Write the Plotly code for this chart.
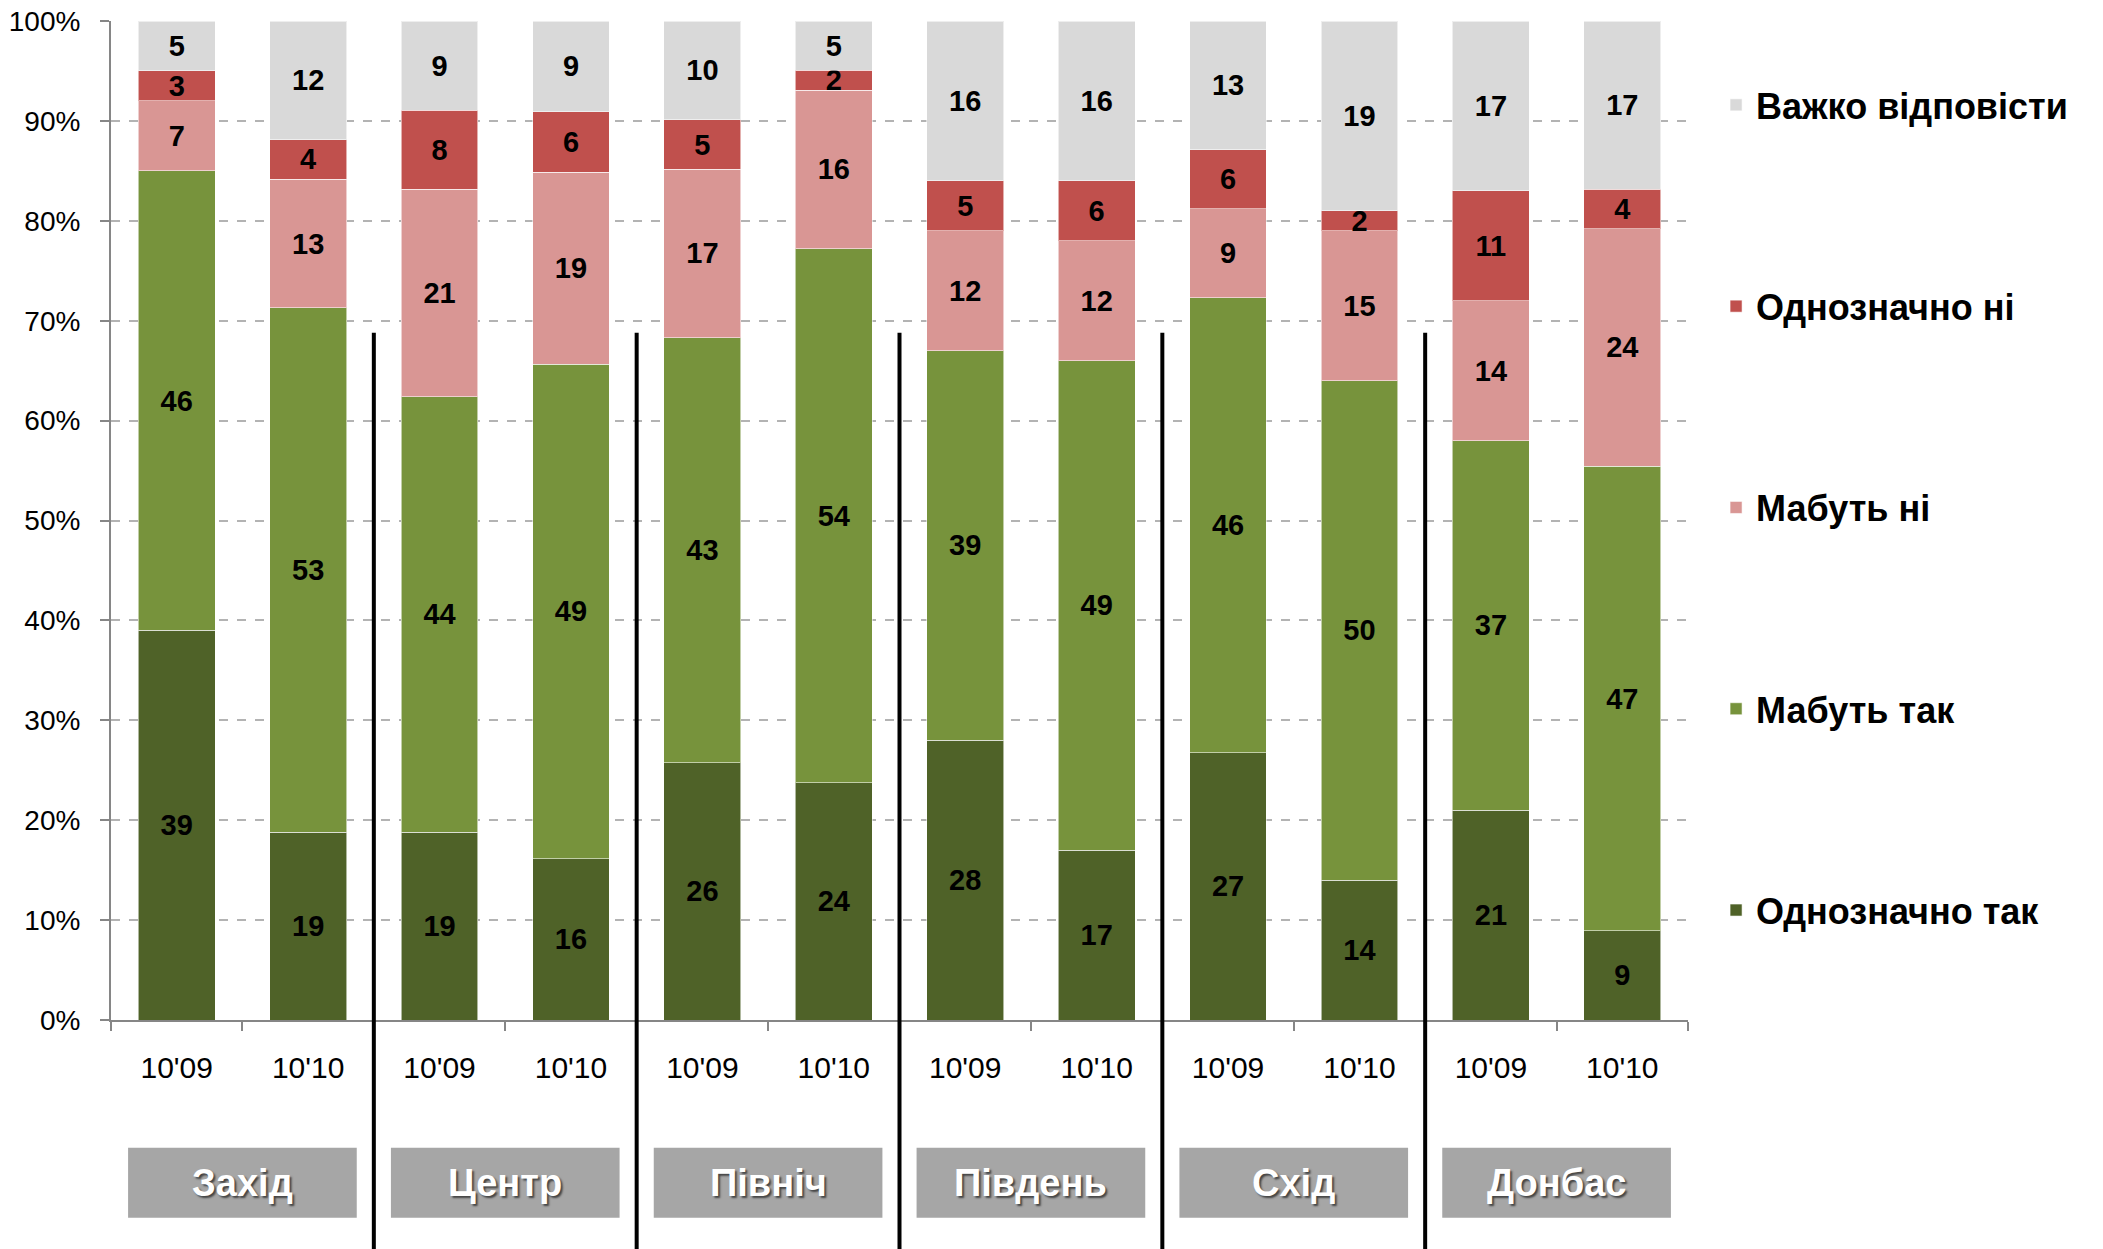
import plotly.graph_objects as go

regions = ["Захід", "Центр", "Північ", "Південь", "Схід", "Донбас"]
periods = ["10'09", "10'10"]

series_names = ["Однозначно так", "Мабуть так", "Мабуть ні", "Однозначно ні", "Важко відповісти"]
definitely_yes = [39, 19, 19, 16, 26, 24, 28, 17, 27, 14, 21, 9]
probably_yes = [46, 53, 44, 49, 43, 54, 39, 49, 46, 50, 37, 47]
probably_no = [7, 13, 21, 19, 17, 16, 12, 12, 9, 15, 14, 24]
definitely_no = [3, 4, 8, 6, 5, 2, 5, 6, 6, 2, 11, 4]
hard_to_say = [5, 12, 9, 9, 10, 5, 16, 16, 13, 19, 17, 17]
series_values = [definitely_yes, probably_yes, probably_no, definitely_no, hard_to_say]
colors = ["#4F6228", "#77933C", "#D99694", "#C0504D", "#D9D9D9"]

n = len(regions) * len(periods)
xs = list(range(n))
tick_text = [periods[i % 2] for i in xs]

FONT = "Liberation Sans, Arial, sans-serif"

fig = go.Figure()
for k, (name, vals, col) in enumerate(zip(series_names, series_values, colors)):
    fig.add_trace(go.Bar(
        x=xs, y=vals, name=name,
        marker=dict(color=col, line=dict(color="rgba(255,255,255,0.55)", width=1)),
        text=[str(v) for v in vals],
        textposition="inside", insidetextanchor="middle", textangle=0,
        textfont=dict(family=FONT, size=29, color="black", weight="bold"),
        constraintext="none",
        legendgroup=name, legendrank=len(series_names) - k,
        hoverinfo="skip",
    ))

shapes = []
annotations = []
# group separators
for g in range(1, len(regions)):
    xb = 2 * g / n
    shapes.append(dict(type="line", xref="paper", yref="paper",
                       x0=xb, x1=xb, y0=0.688, y1=-0.24,
                       line=dict(color="black", width=4)))
# group label boxes
for g, reg in enumerate(regions):
    shapes.append(dict(type="rect", xref="x", yref="paper",
                       x0=2 * g - 0.37, x1=2 * g + 1.37, y0=-0.128, y1=-0.198,
                       fillcolor="#A6A6A6", line=dict(width=0), layer="above"))
    annotations.append(dict(x=2 * g + 0.5, y=-0.163, xref="x", yref="paper",
                            text=reg, showarrow=False,
                            font=dict(family=FONT, size=38, color="white", weight="bold",
                                      shadow="2px 2px 2px #444444"),
                            xanchor="center", yanchor="middle"))

fig.update_layout(
    width=2103, height=1249,
    margin=dict(l=111, r=415, t=21, b=229, autoexpand=False),
    paper_bgcolor="white", plot_bgcolor="white",
    barmode="stack", barnorm="percent", bargap=0.415,
    uniformtext=dict(minsize=29, mode="show"),
    font=dict(family=FONT, color="black"),
    showlegend=True,
    legend=dict(x=1.0178, y=0.946, xanchor="left", yanchor="top",
                traceorder="grouped", tracegroupgap=151.5,
                font=dict(family=FONT, size=36, color="black", weight="bold"),
                bgcolor="rgba(0,0,0,0)"),
    shapes=shapes, annotations=annotations,
)
fig.update_xaxes(
    range=[-0.5, n - 0.5], tickmode="array", tickvals=xs, ticktext=tick_text,
    ticks="", showgrid=False, zeroline=False, automargin=False,
    showline=True, linecolor="#868686", linewidth=2,
    tickfont=dict(family=FONT, size=30, color="black"),
    ticklabelstandoff=20,
    minor=dict(tickmode="linear", tick0=-0.5, dtick=1, ticks="outside",
               ticklen=9, tickcolor="#868686", tickwidth=2, showgrid=False),
)
fig.update_yaxes(
    range=[0, 100], dtick=10, ticksuffix="%", automargin=False,
    ticklabeloverflow="allow",
    showgrid=True, gridcolor="#B3B3B3", griddash="dash", gridwidth=1.5,
    zeroline=False, showline=True, linecolor="#868686", linewidth=2,
    ticks="outside", ticklen=9, tickcolor="#868686", tickwidth=2,
    tickfont=dict(family=FONT, size=28, color="black"),
    ticklabelstandoff=14,
)

fig.write_html("out.html", config={"displayModeBar": False},
               post_script="document.body.style.margin='0';document.body.style.overflow='hidden';")
